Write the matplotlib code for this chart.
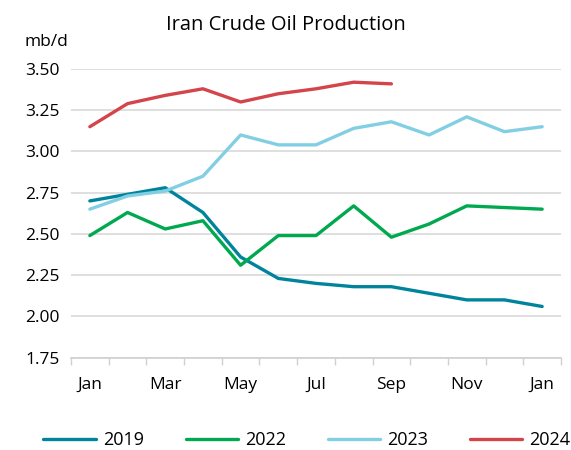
import matplotlib
matplotlib.use("Agg")
import matplotlib.pyplot as plt
import numpy as np

plt.rcParams['font.family'] = ['Open Sans', 'DejaVu Sans']

months = ["Jan", "Feb", "Mar", "Apr", "May", "Jun", "Jul", "Aug", "Sep", "Oct", "Nov", "Dec", "Jan"]
tick_labels = ["Jan", "", "Mar", "", "May", "", "Jul", "", "Sep", "", "Nov", "", "Jan"]

y2019 = [2.70, 2.74, 2.78, 2.63, 2.36, 2.23, 2.20, 2.18, 2.18, 2.14, 2.10, 2.10, 2.06]
y2022 = [2.49, 2.63, 2.53, 2.58, 2.31, 2.49, 2.49, 2.67, 2.48, 2.56, 2.67, 2.66, 2.65]
y2023 = [2.65, 2.73, 2.76, 2.85, 3.10, 3.04, 3.04, 3.14, 3.18, 3.10, 3.21, 3.12, 3.15]
y2024 = [3.15, 3.29, 3.34, 3.38, 3.30, 3.35, 3.38, 3.42, 3.41]

series = [("2019", y2019, "#00849C"),
          ("2022", y2022, "#00A94F"),
          ("2023", y2023, "#82CFE3"),
          ("2024", y2024, "#D4444B")]

fig = plt.figure(figsize=(5.71, 4.5), dpi=100)
ax = fig.add_axes([71/571, 1-357.6/450, 490/571, (357.6-69)/450])

x = np.arange(len(months))
for name, vals, col in series:
    ax.plot(x[:len(vals)], vals, color=col, lw=2.4, label=name, solid_capstyle='round')

ax.set_xlim(-0.5, len(months) - 0.5)
ax.set_ylim(1.75, 3.5)
yt = np.arange(1.75, 3.51, 0.25)
ax.set_yticks(yt)
ax.set_yticklabels([f"{v:.2f}" for v in yt], fontsize=12.5)
ax.yaxis.grid(True, color="#d9d9d9", lw=1.2)
ax.set_axisbelow(True)
ax.tick_params(axis='y', length=0, pad=8)

ax.set_xticks(x)
ax.set_xticklabels(tick_labels, fontsize=12.5)
ax.tick_params(axis='x', which='major', length=0, pad=14)
ax.set_xticks(np.arange(-0.5, len(months), 1.0), minor=True)
ax.tick_params(axis='x', which='minor', length=5, color="#d0d0d0", width=1.0)

for s in ['top', 'right', 'left']:
    ax.spines[s].set_visible(False)
ax.spines['bottom'].set_color("#d0d0d0")
ax.spines['bottom'].set_linewidth(1.2)

fig.text(0.5, 1-25/450, "Iran Crude Oil Production", ha='center', va='center', fontsize=14.5)
fig.text(25/571, 1-42/450, "mb/d", ha='left', va='center', fontsize=12.5)

fig.legend(loc='center', bbox_to_anchor=(307/571, 1-440/450), ncol=4, frameon=False,
           fontsize=13, handlelength=2.9, handletextpad=0.4, columnspacing=2.3,
           borderaxespad=0, borderpad=0)

fig.savefig("out.png", dpi=100)
